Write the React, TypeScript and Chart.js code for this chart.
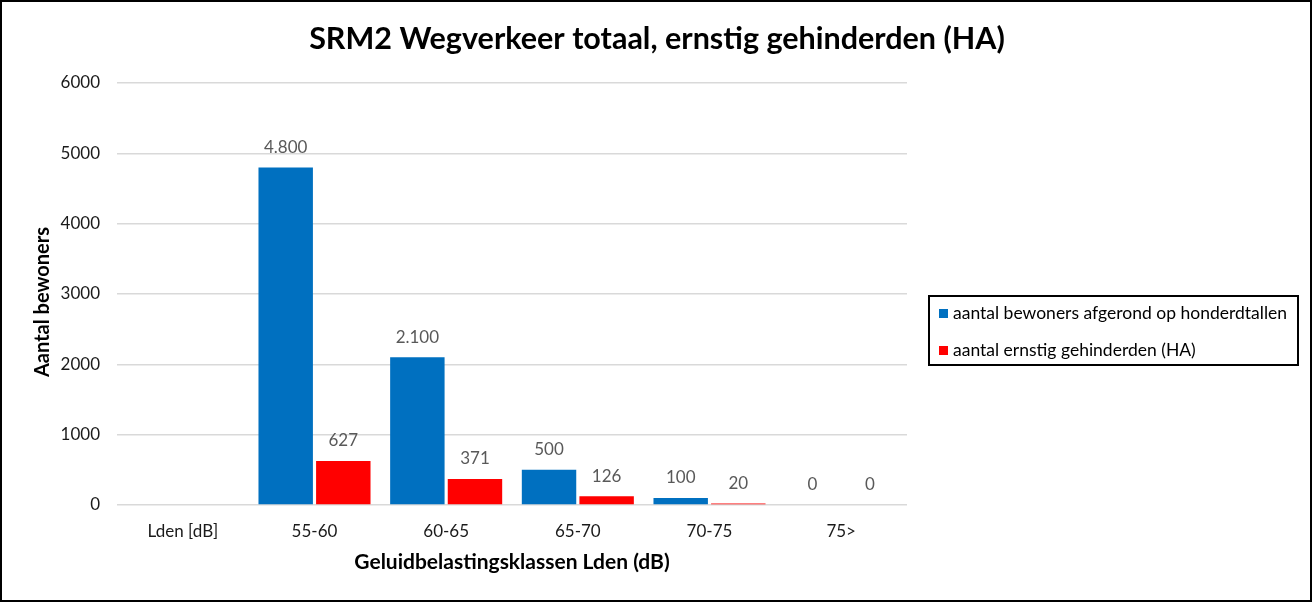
import { useEffect, useRef } from 'react';
import { Chart, registerables } from 'chart.js';

Chart.register(...registerables);

const categories = ['Lden [dB]', '55-60', '60-65', '65-70', '70-75', '75>'];
const bewoners = [null, 4800, 2100, 500, 100, 0];
const gehinderden = [null, 627, 371, 126, 20, 0];
const seriesLabels = ['aantal bewoners afgerond op honderdtallen', 'aantal ernstig gehinderden (HA)'];
const seriesColors = ['#0070c0', '#ff0000'];
const chartTitle = 'SRM2 Wegverkeer totaal, ernstig gehinderden (HA)';
const yTitle = 'Aantal bewoners';
const xTitle = 'Geluidbelastingsklassen Lden (dB)';

const FONT = 'Lato, "Open Sans", sans-serif';

// 4800 -> "4.800"
const formatNl = (v: number) => String(v).replace(/\B(?=(\d{3})+(?!\d))/g, '.');

const valueLabels = {
  id: 'valueLabels',
  afterDatasetsDraw(chart: Chart) {
    const { ctx } = chart;
    ctx.save();
    ctx.font = `17px ${FONT}`;
    ctx.fillStyle = '#595959';
    ctx.textAlign = 'center';
    ctx.textBaseline = 'middle';
    chart.data.datasets.forEach((ds, i) => {
      const meta = chart.getDatasetMeta(i);
      meta.data.forEach((el: any, j: number) => {
        const v = ds.data[j] as number | null;
        if (v === null || v === undefined) return;
        ctx.fillText(formatNl(v), el.x, el.y - 20);
      });
    });
    ctx.restore();
  },
};

// titel over de hele breedte + y-as titel
const titles = {
  id: 'titles',
  afterDraw(chart: Chart) {
    const { ctx } = chart;
    ctx.save();
    ctx.fillStyle = '#000';
    ctx.textAlign = 'center';
    ctx.textBaseline = 'alphabetic';
    ctx.font = `bold 30.5px ${FONT}`;
    ctx.fillText(chartTitle, chart.width / 2 + 1, 47);
    ctx.translate(41, 300);
    ctx.rotate(-Math.PI / 2);
    ctx.textBaseline = 'middle';
    ctx.font = `bold 20px ${FONT}`;
    ctx.fillText(yTitle, 0, 0);
    ctx.restore();
  },
};

// legenda rechts met zwart kader
const boxedLegend = {
  id: 'boxedLegend',
  afterDraw(chart: Chart) {
    const { ctx } = chart;
    ctx.save();
    ctx.strokeStyle = '#000';
    ctx.lineWidth = 2;
    ctx.strokeRect(927, 294, 369, 69);
    ctx.font = `17.5px ${FONT}`;
    ctx.textBaseline = 'middle';
    ctx.textAlign = 'left';
    const rows = [311, 348];
    seriesLabels.forEach((label, i) => {
      ctx.fillStyle = seriesColors[i];
      ctx.fillRect(937, rows[i] - 4, 9, 9);
      ctx.fillStyle = '#000';
      ctx.fillText(label, 951, rows[i]);
    });
    ctx.restore();
  },
};

const BarChart = () => {
  const chartRef = useRef<HTMLCanvasElement>(null);
  const chartInstanceRef = useRef<Chart | null>(null);

  useEffect(() => {
    if (!chartRef.current) return;
    if (chartInstanceRef.current) chartInstanceRef.current.destroy();

    chartInstanceRef.current = new Chart(chartRef.current, {
      type: 'bar',
      data: {
        labels: categories,
        datasets: [
          {
            label: seriesLabels[0],
            data: bewoners,
            backgroundColor: seriesColors[0],
            categoryPercentage: 0.875,
            barPercentage: 0.945,
          },
          {
            label: seriesLabels[1],
            data: gehinderden,
            backgroundColor: seriesColors[1],
            categoryPercentage: 0.875,
            barPercentage: 0.945,
          },
        ],
      },
      options: {
        responsive: false,
        animation: false,
        devicePixelRatio: 1,
        layout: { padding: { left: 0, right: 403, top: 81, bottom: 25 } },
        plugins: {
          legend: { display: false },
          tooltip: { enabled: false },
          title: { display: false },
        },
        scales: {
          x: {
            afterFit: (s: any) => {
              s.height = 70;
            },
            grid: { display: false, drawTicks: false },
            border: { display: false },
            ticks: { color: '#1a1a1a', font: { family: FONT, size: 17 }, padding: 16 },
            title: {
              display: true,
              text: xTitle,
              color: '#000',
              font: { family: FONT, size: 21, weight: 'bold' },
              padding: { top: 0, bottom: 0 },
            },
          },
          y: {
            min: 0,
            max: 6000,
            afterFit: (s: any) => {
              s.width = 115;
            },
            grid: { color: '#d9d9d9', lineWidth: 1.5, drawTicks: false },
            border: { display: false },
            ticks: {
              stepSize: 1000,
              color: '#1a1a1a',
              font: { family: FONT, size: 17 },
              padding: 17,
              callback: (v: any) => String(v),
            },
          },
        },
      },
      plugins: [valueLabels, titles, boxedLegend],
    });

    return () => {
      if (chartInstanceRef.current) {
        chartInstanceRef.current.destroy();
        chartInstanceRef.current = null;
      }
    };
  }, []);

  return <canvas ref={chartRef} width={1308} height={598} style={{ display: 'block' }} />;
};

export default function App() {
  return (
    <div
      style={{
        position: 'absolute',
        left: 0,
        top: 0,
        width: 1312,
        height: 602,
        boxSizing: 'border-box',
        border: '2px solid #000',
        background: '#fff',
      }}
    >
      <BarChart />
    </div>
  );
}
